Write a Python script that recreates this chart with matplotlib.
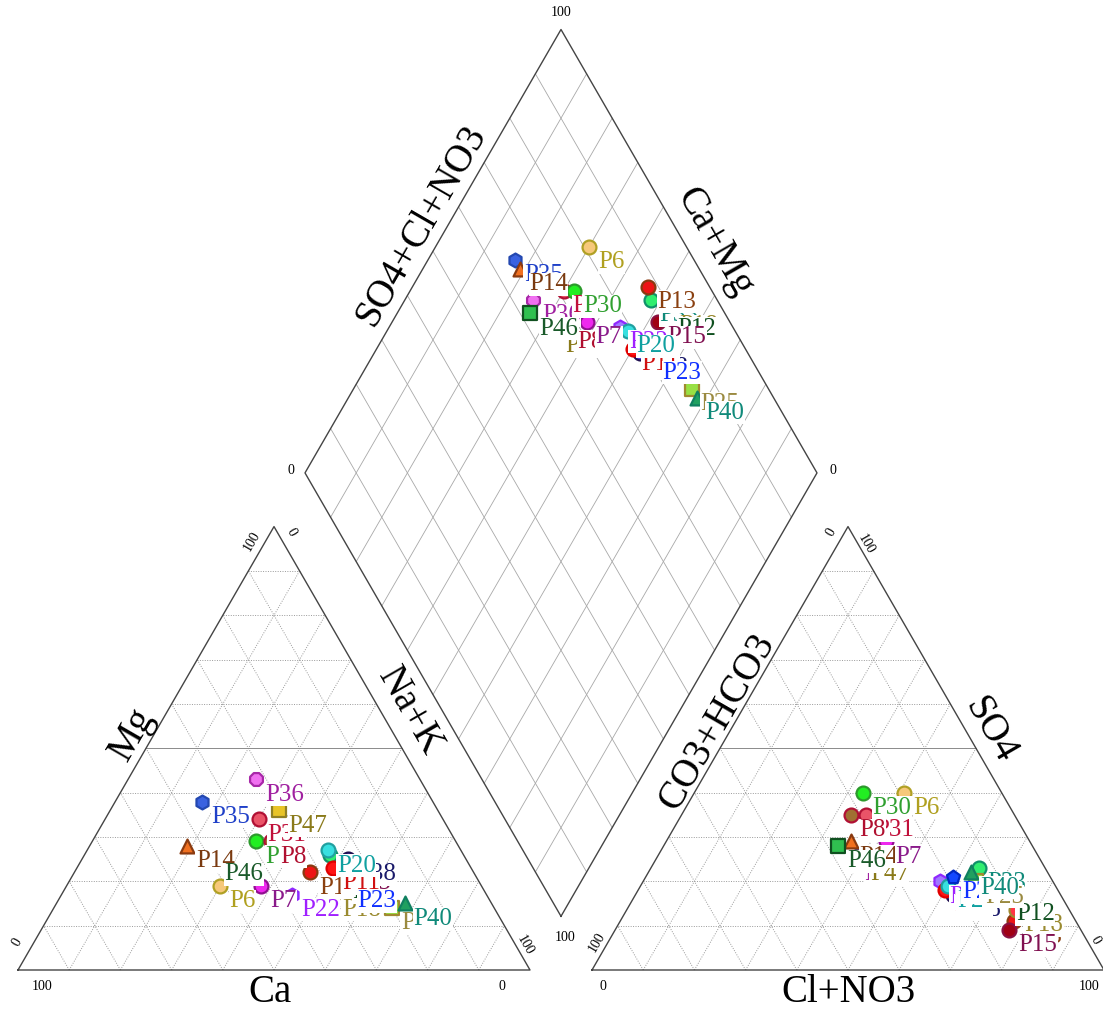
import numpy as np
import matplotlib
matplotlib.use('Agg')
import matplotlib.pyplot as plt

plt.rcParams['font.family'] = ['Liberation Serif', 'DejaVu Serif']

# sample names and ionic composition (percent of meq)
samples = ['P35', 'P36', 'P31', 'P47', 'P30', 'P8', 'P14', 'P46', 'P6', 'P7', 'P22',
           'P33', 'P13', 'P18', 'P12', 'P15', 'P38', 'P11', 'P20', 'P23', 'P25', 'P40']
ca = [45, 32, 36, 31, 39, 36, 53, 49, 51, 43, 38, 26, 32, 30, 26, 25, 23, 27, 26, 26, 20, 17]
mg = [38, 43, 34, 36, 29, 29, 28, 25, 19, 19, 17, 26, 22, 17, 21, 23, 25, 23, 27, 19, 14, 15]
nak = [17, 25, 30, 33, 32, 35, 19, 26, 30, 38, 45, 48, 46, 53, 53, 52, 52, 50, 47, 55, 66, 68]
hco3 = [35, 36, 29, 35, 27, 32, 35, 38, 19, 28, 22, 13, 12, 10.5, 11, 14, 21, 22, 21, 19, 15, 15]
so4 = [26, 25, 35, 25, 40, 35, 29, 28, 40, 29, 20, 23, 11, 13.5, 16, 9, 17, 18, 19, 21, 20, 22]
cl = [39, 39, 36, 40, 33, 33, 36, 34, 41, 43, 58, 64, 77, 76, 73, 77, 62, 60, 60, 60, 65, 63]

markers = ['h', '8', 'o', 's', 'o', 'o', '^', 's', 'o', 'o', 'h',
           'o', 'o', 'o', 'o', 'o', 'o', 'o', 'o', 'p', 's', '^']
fill_colors = ['#3a62e0', '#f070f0', '#ea5468', '#e8c428', '#22ee22', '#a07032', '#f07020',
               '#30c050', '#f6c87a', '#ee28ee', '#a078ff', '#30ee70', '#ee1414', '#ff3444',
               '#902860', '#a00014', '#5a3ae0', '#ff1414', '#38e0e0', '#1448ff', '#98e044',
               '#20a060']
edge_colors = ['#2448b0', '#a828a8', '#b01034', '#908024', '#2c9a2c', '#b01034', '#8a3a10',
               '#105020', '#b0a024', '#901090', '#9028ff', '#10906a', '#8a3a10', '#a08a30',
               '#105020', '#8a1040', '#201050', '#e00000', '#20a0a0', '#0028c0', '#a08a30',
               '#108060']
label_colors = ['#1f40c8', '#a020a0', '#c0103a', '#8a7a1a', '#30a030', '#b01030', '#7a3a10',
                '#1a5a2a', '#b0a020', '#8a1a8a', '#a020ff', '#108a7a', '#8a4010', '#9a8a30',
                '#105020', '#801050', '#1a1a6a', '#d01010', '#10a0a0', '#1030ff', '#9a8a40',
                '#108a7a']

H = np.sqrt(3) / 2
PX = 1 / 512            # one pixel in plot units (triangle side = 1)
GAP = 62 * PX           # space between the two triangles
OFF = 1 + GAP           # left corner of the anion triangle
BASE = np.array([1 + GAP / 2, GAP * H])  # lower vertex of the diamond


def cation_xy(c, m, n):
    t = c + m + n
    m, n = m / t, n / t
    return n + m / 2, m * H


def anion_xy(h, s, c):
    t = h + s + c
    s, c = s / t, c / t
    return OFF + c + s / 2, s * H


def diamond_xy(camg, so4cl):
    return BASE[0] + 0.5 * (so4cl - camg), BASE[1] + H * (so4cl + camg)


fig = plt.figure(figsize=(11.03, 10.09), dpi=100)
ax = fig.add_axes([0, 0, 1, 1])
ax.set_xlim(-18 * PX, 1085 * PX)
ax.set_ylim(-39 * PX, 970 * PX)
ax.axis('off')

grid_kw = dict(color='#9a9a9a', lw=0.7, ls=(0, (1, 1.5)), zorder=1)
outline_kw = dict(color='#444444', lw=1.0, zorder=2)

# triangles
for ox in [0, OFF]:
    for k in range(1, 10):
        f = k / 10
        kw = dict(grid_kw)
        if k == 5:
            kw.update(ls='-', color='#8a8a8a')
        ax.plot([ox + f / 2, ox + 1 - f / 2], [f * H, f * H], **kw)
        ax.plot([ox + f, ox + f + (1 - f) / 2], [0, (1 - f) * H], **grid_kw)
        ax.plot([ox + 1 - f, ox + (1 - f) / 2], [0, (1 - f) * H], **grid_kw)
    ax.plot([ox, ox + 1, ox + 0.5, ox], [0, 0, H, 0], **outline_kw)

# diamond
left = BASE + np.array([-0.5, H])
right = BASE + np.array([0.5, H])
top = BASE + np.array([0, 2 * H])
for k in range(1, 10):
    f = k / 10
    p0 = diamond_xy(f, 0)
    p1 = diamond_xy(f, 1)
    ax.plot([p0[0], p1[0]], [p0[1], p1[1]], color='#a8a8a8', lw=0.6, zorder=1)
    p0 = diamond_xy(0, f)
    p1 = diamond_xy(1, f)
    ax.plot([p0[0], p1[0]], [p0[1], p1[1]], color='#a8a8a8', lw=0.6, zorder=1)
ax.plot([BASE[0], left[0], top[0], right[0], BASE[0]],
        [BASE[1], left[1], top[1], right[1], BASE[1]], **outline_kw)

# axis titles
title_kw = dict(fontsize=28, ha='center', va='center')
ax.text(0.5 - 4 * PX, -22 * PX, 'Ca', **title_kw)
ax.text(0.25 - 0.037 * H + 0.009 * 0.5, H / 2 + 0.037 * 0.5 + 0.009 * H, 'Mg', rotation=60, **title_kw)
ax.text(0.75 + 0.049 * H - 0.054 * 0.5, H / 2 + 0.049 * 0.5 + 0.054 * H, 'Na+K', rotation=-60, **title_kw)
ax.text(OFF + 0.5, -22 * PX, 'Cl+NO3', **title_kw)
ax.text(OFF + 0.25 - 0.031 * H + 0.042 * 0.5, H / 2 + 0.031 * 0.5 + 0.042 * H, 'CO3+HCO3', rotation=60, **title_kw)
ax.text(OFF + 0.75 + 0.041 * H - 0.018 * 0.5, H / 2 + 0.041 * 0.5 + 0.018 * H, 'SO4', rotation=-60, **title_kw)
mid = (left + top) / 2
ax.text(mid[0] - 0.044 * H + 0.033 * 0.5, mid[1] + 0.044 * 0.5 + 0.033 * H, 'SO4+Cl+NO3', rotation=60, **title_kw)
mid = (right + top) / 2
ax.text(mid[0] + 0.051 * H + 0.009 * 0.5, mid[1] + 0.051 * 0.5 - 0.009 * H, 'Ca+Mg', rotation=-60, **title_kw)

# scale labels
tk = dict(fontsize=10, ha='center', va='center')
ax.text(24 * PX, -16 * PX, '100', **tk)
ax.text(1 - 28 * PX, -16 * PX, '0', **tk)
ax.text(OFF + 11 * PX, -16 * PX, '0', **tk)
ax.text(OFF + 1 - 15 * PX, -16 * PX, '100', **tk)
# left triangle sides
ax.text(-1 * PX, 28 * PX, '0', rotation=60, **tk)
ax.text(0.5 - 22 * PX, H - 15 * PX, '100', rotation=60, **tk)
ax.text(0.5 + 17 * PX, H - 6 * PX, '0', rotation=-60, **tk)
ax.text(1 - 5 * PX, 25 * PX, '100', rotation=-60, **tk)
# right triangle sides
ax.text(OFF + 5 * PX, 28 * PX, '100', rotation=60, **tk)
ax.text(OFF + 0.5 - 17 * PX, H - 6 * PX, '0', rotation=60, **tk)
ax.text(OFF + 0.5 + 18 * PX, H - 18 * PX, '100', rotation=-60, **tk)
ax.text(OFF + 1 - 9 * PX, 30 * PX, '0', rotation=-60, **tk)
# diamond corners
ax.text(top[0], top[1] + 17 * PX, '100', **tk)
ax.text(left[0] - 14 * PX, left[1] + 2 * PX, '0', **tk)
ax.text(right[0] + 16 * PX, right[1] + 2 * PX, '0', **tk)
ax.text(BASE[0] + 4 * PX, BASE[1] - 21 * PX, '100', **tk)

# points
pts = []
for i in range(len(samples)):
    cx, cy = cation_xy(ca[i], mg[i], nak[i])
    axx, ayy = anion_xy(hco3[i], so4[i], cl[i])
    camg = (ca[i] + mg[i]) / (ca[i] + mg[i] + nak[i])
    so4cl = (so4[i] + cl[i]) / (hco3[i] + so4[i] + cl[i])
    dx, dy = diamond_xy(camg, so4cl)
    pts.append([(cx, cy), (axx, ayy), (dx, dy)])
    for x, y in pts[-1]:
        ax.scatter(x, y, marker=markers[i], s=100, c=fill_colors[i],
                   edgecolors=edge_colors[i], linewidths=1.6, zorder=3)

for i in range(len(samples)):
    for x, y in pts[i]:
        ax.annotate(samples[i], (x, y), xytext=(6.5, -11), textcoords='offset points',
                    fontsize=18, color=label_colors[i], ha='left', va='center', zorder=4,
                    bbox=dict(facecolor='white', edgecolor='none', pad=0.3))

fig.savefig('out.png', dpi=100)
plt.close(fig)
